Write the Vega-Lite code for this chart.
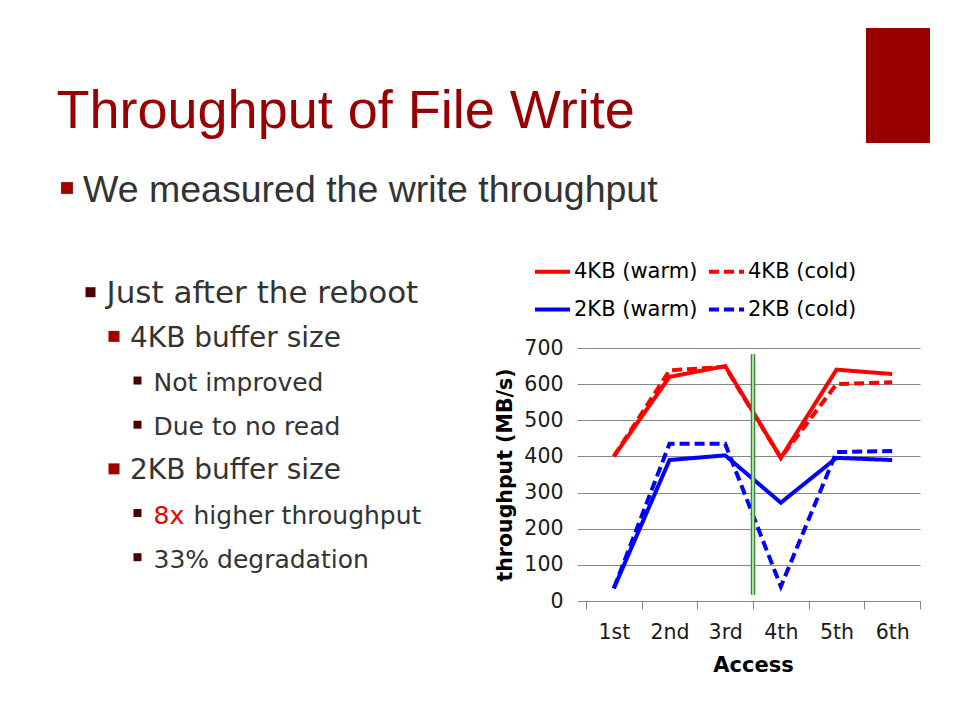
{
  "$schema": "https://vega.github.io/schema/vega-lite/v6.json",
  "background": "white",
  "padding": {"left": 0, "top": 28, "right": 0, "bottom": 0},
  "config": {"view": {"stroke": null}},
  "datasets": {
    "header": [
      {"role": "title", "level": 0, "line": 0, "text": "Throughput of File Write"},
      {"role": "bullet", "level": 1, "line": 1, "text": "We measured the write throughput"}
    ],
    "bullets": [
      {"line": 1, "level": 2, "text": "Just after the reboot"},
      {"line": 2, "level": 3, "text": "4KB buffer size"},
      {"line": 3, "level": 4, "text": "Not improved"},
      {"line": 4, "level": 4, "text": "Due to no read"},
      {"line": 5, "level": 3, "text": "2KB buffer size"},
      {"line": 6, "level": 4, "text": "8x", "emphasis": true},
      {"line": 6, "level": 4, "text": "higher throughput", "cont": true},
      {"line": 7, "level": 4, "text": "33% degradation"}
    ],
    "throughput": [
      {"series": "4KB (warm)", "access": "1st", "throughput": 400},
      {"series": "4KB (warm)", "access": "2nd", "throughput": 620},
      {"series": "4KB (warm)", "access": "3rd", "throughput": 650},
      {"series": "4KB (warm)", "access": "4th", "throughput": 396},
      {"series": "4KB (warm)", "access": "5th", "throughput": 640},
      {"series": "4KB (warm)", "access": "6th", "throughput": 628},
      {"series": "4KB (cold)", "access": "1st", "throughput": 400},
      {"series": "4KB (cold)", "access": "2nd", "throughput": 638},
      {"series": "4KB (cold)", "access": "3rd", "throughput": 648},
      {"series": "4KB (cold)", "access": "4th", "throughput": 396},
      {"series": "4KB (cold)", "access": "5th", "throughput": 600},
      {"series": "4KB (cold)", "access": "6th", "throughput": 605},
      {"series": "2KB (warm)", "access": "1st", "throughput": 35},
      {"series": "2KB (warm)", "access": "2nd", "throughput": 390},
      {"series": "2KB (warm)", "access": "3rd", "throughput": 403},
      {"series": "2KB (warm)", "access": "4th", "throughput": 272},
      {"series": "2KB (warm)", "access": "5th", "throughput": 396},
      {"series": "2KB (warm)", "access": "6th", "throughput": 390},
      {"series": "2KB (cold)", "access": "1st", "throughput": 35},
      {"series": "2KB (cold)", "access": "2nd", "throughput": 435},
      {"series": "2KB (cold)", "access": "3rd", "throughput": 435},
      {"series": "2KB (cold)", "access": "4th", "throughput": 40},
      {"series": "2KB (cold)", "access": "5th", "throughput": 412},
      {"series": "2KB (cold)", "access": "6th", "throughput": 415}
    ]
  },
  "spacing": 59,
  "vconcat": [
    {
      "spacing": 6,
      "hconcat": [
        {
          "width": 860,
          "height": 190,
          "data": {"name": "header"},
          "encoding": {
            "x": {"field": "level", "type": "quantitative", "scale": {"domain": [0, 4], "range": [43.5, 137.5]}, "axis": null},
            "y": {"field": "line", "type": "quantitative", "scale": {"domain": [0, 1], "range": [86.6, 160]}, "axis": null}
          },
          "layer": [
            {
              "transform": [{"filter": "datum.role === 'title'"}],
              "mark": {"type": "text", "align": "left", "baseline": "alphabetic", "font": "Liberation Sans", "fontSize": 54, "color": "#990000", "dx": 13, "dy": 13.7},
              "encoding": {"text": {"field": "text"}}
            },
            {
              "transform": [{"filter": "datum.role === 'bullet'"}],
              "mark": {"type": "point", "shape": "square", "filled": true, "opacity": 1, "size": 140, "color": "#a00000"}
            },
            {
              "transform": [{"filter": "datum.role === 'bullet'"}],
              "mark": {"type": "text", "align": "left", "baseline": "alphabetic", "font": "Liberation Sans", "fontSize": 37.5, "color": "#333333", "dx": 16, "dy": 13.7},
              "encoding": {"text": {"field": "text"}}
            }
          ]
        },
        {
          "width": 64,
          "height": 115,
          "data": {"values": [{"element": "accent bar"}]},
          "mark": {"type": "rect", "color": "#990000"},
          "encoding": {}
        }
      ]
    },
    {
      "spacing": 55,
      "hconcat": [
        {
          "width": 440,
          "height": 253,
          "data": {"name": "bullets"},
          "encoding": {
            "x": {"field": "level", "type": "quantitative", "scale": {"domain": [0, 4], "range": [43.5, 137.5]}, "axis": null},
            "y": {"field": "line", "type": "quantitative", "scale": {"domain": [1, 7], "range": [-55.8, 209.2]}, "axis": null}
          },
          "layer": [
            {
              "transform": [{"filter": "!datum.cont"}],
              "mark": {"type": "point", "shape": "square", "filled": true, "opacity": 1},
              "encoding": {
                "size": {"condition": [{"test": "datum.level === 2", "value": 100}, {"test": "datum.level === 3", "value": 121}], "value": 64},
                "color": {"condition": [{"test": "datum.level === 3", "value": "#a00000"}], "value": "#4d0000"}
              }
            },
            {
              "transform": [{"filter": "!datum.cont"}],
              "mark": {"type": "text", "align": "left", "baseline": "alphabetic", "font": "DejaVu Sans", "dx": 16, "dy": 10.5},
              "encoding": {
                "text": {"field": "text"},
                "size": {"condition": [{"test": "datum.level === 2", "value": 31}, {"test": "datum.level === 3", "value": 28}], "value": 25},
                "color": {"condition": {"test": "datum.emphasis", "value": "#ee0000"}, "value": "#333333"}
              }
            },
            {
              "transform": [{"filter": "datum.cont"}],
              "mark": {"type": "text", "align": "left", "baseline": "alphabetic", "font": "DejaVu Sans", "fontSize": 25, "color": "#333333", "dx": 56, "dy": 10.5},
              "encoding": {"text": {"field": "text"}}
            }
          ]
        },
        {
          "width": 334,
          "height": 253,
          "data": {"name": "throughput"},
          "layer": [
            {
              "mark": {"type": "line", "strokeWidth": 4},
              "encoding": {
                "x": {
                  "field": "access", "type": "ordinal", "bandPosition": 0.5,
                  "scale": {"type": "band", "domain": ["1st", "2nd", "3rd", "4th", "5th", "6th"], "paddingInner": 0, "paddingOuter": 0},
                  "axis": {"title": "Access", "tickBand": "extent", "labelAngle": 0, "labelFont": "DejaVu Sans", "labelFontSize": 20.5, "labelColor": "#1a1a1a", "labelPadding": 13, "tickSize": 8, "tickColor": "#868686", "domainColor": "#868686", "titleFont": "DejaVu Sans", "titleFontSize": 21, "titleFontWeight": "bold", "titleColor": "#000000", "titlePadding": 12, "grid": false}
                },
                "y": {
                  "field": "throughput", "type": "quantitative",
                  "scale": {"domain": [0, 700]},
                  "axis": {"title": "throughput (MB/s)", "values": [0, 100, 200, 300, 400, 500, 600, 700], "labelOverlap": false, "grid": true, "gridColor": "#868686", "gridOpacity": 1, "gridWidth": 1, "domain": false, "tickSize": 9, "tickColor": "#868686", "labelFont": "DejaVu Sans", "labelFontSize": 20.5, "labelColor": "#1a1a1a", "labelPadding": 14, "titleFont": "DejaVu Sans", "titleFontSize": 20.5, "titleFontWeight": "bold", "titleColor": "#000000", "titlePadding": 8}
                },
                "color": {
                  "field": "series", "type": "nominal",
                  "scale": {"domain": ["4KB (warm)", "4KB (cold)", "2KB (warm)", "2KB (cold)"], "range": ["#ff0000", "#ff0000", "#0000ff", "#0000ff"]},
                  "legend": {"title": null, "orient": "none", "legendX": 533, "legendY": 224, "columns": 2, "direction": "horizontal", "symbolType": "stroke", "symbolSize": 1225, "symbolStrokeWidth": 4, "labelFont": "DejaVu Sans", "labelFontSize": 21, "labelColor": "#000000", "columnPadding": 3, "rowPadding": 8, "labelOffset": 2}
                },
                "strokeDash": {
                  "field": "series", "type": "nominal",
                  "scale": {"domain": ["4KB (warm)", "4KB (cold)", "2KB (warm)", "2KB (cold)"], "range": [[1, 0], [10, 5], [1, 0], [10, 5]]}
                }
              }
            },
            {
              "data": {"values": [{"access": "3rd", "event": "reboot"}]},
              "mark": {"type": "rule", "color": "#2e8b2e", "strokeWidth": 4.5},
              "encoding": {
                "x": {"field": "access", "type": "ordinal", "bandPosition": 1},
                "y": {"datum": 17, "type": "quantitative", "axis": {"title": "throughput (MB/s)", "values": [0, 100, 200, 300, 400, 500, 600, 700], "labelOverlap": false}},
                "y2": {"datum": 683}
              }
            },
            {
              "data": {"values": [{"access": "3rd", "event": "reboot"}]},
              "mark": {"type": "rule", "color": "#bfe6b5", "strokeWidth": 1.8},
              "encoding": {
                "x": {"field": "access", "type": "ordinal", "bandPosition": 1},
                "y": {"datum": 17, "type": "quantitative", "axis": {"title": "throughput (MB/s)", "values": [0, 100, 200, 300, 400, 500, 600, 700], "labelOverlap": false}},
                "y2": {"datum": 683}
              }
            }
          ]
        }
      ]
    }
  ]
}
